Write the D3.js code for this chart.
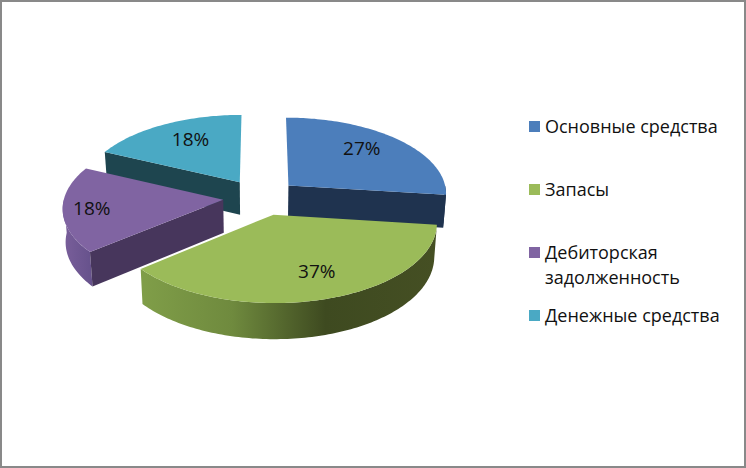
<!DOCTYPE html>
<html lang="ru"><head><meta charset="utf-8">
<script src="https://cdn.jsdelivr.net/npm/d3@7/dist/d3.min.js"></script>
<style>html,body{margin:0;padding:0;background:#fff;overflow:hidden}svg{display:block}</style>
</head><body><svg id="c" width="746" height="468"></svg>
<script>
(function(){
// Data
const categories = ["Основные средства", "Запасы", "Дебиторская задолженность", "Денежные средства"];
const values = [27, 37, 18, 18];
const percentLabels = ["27%", "37%", "18%", "18%"];
const legendLines = [["Основные средства"], ["Запасы"], ["Дебиторская", "задолженность"], ["Денежные средства"]];

// Styles
const topColors = ["#4c7ebb", "#9bbb59", "#8064a2", "#4aa9c4"];
const edgeColors = ["#1f334f", "#57682f", "#47365c", "#1e454f"];
const rimColors = ["#1f334f", "url(#gGreen)", "url(#gPurple)", "#1e454f"];
const labelRadius = [0.66, 0.86, 0.87, 0.63];
const labelShift = [[0,-6],[0,-15],[8,0],[0,-5]];
const sliceNudge = [[0,0],[2.5,-1],[1.5,0],[0,0]];
const W = 746, H = 468;
const font = '"Open Sans", sans-serif';
const cx = 260, cy = 197.5, A = 159, B = 76.4, persp = 0.0946, explode = 0.242;
const depth = 33, shrink = 0.985, depthSlope = 0.03;

const svg = d3.select("#c");
svg.append("rect").attr("x",1).attr("y",1).attr("width",W-2).attr("height",H-2)
  .attr("fill","#fff").attr("stroke","#898989").attr("stroke-width",2);

const defs = svg.append("defs");
function grad(id, x1, x2, stops){
  const g = defs.append("linearGradient").attr("id",id).attr("gradientUnits","userSpaceOnUse")
    .attr("x1",x1).attr("x2",x2).attr("y1",0).attr("y2",0);
  stops.forEach(s=>g.append("stop").attr("offset",s[0]).attr("stop-color",s[1]));
}
grad("gGreen",145,436,[[0,"#7f9d48"],[0.3,"#6f8a3e"],[0.62,"#3e4a20"],[1,"#454f23"]]);
grad("gPurple",62,95,[[0,"#7a5f9b"],[1,"#64508a"]]);

const slices = d3.pie().value(d=>d).sort(null)(values);

function project(slice, r, th){
  const mid = (slice.startAngle+slice.endAngle)/2;
  const X = r*Math.sin(th)+explode*Math.sin(mid);
  const Z = r*Math.cos(th)+explode*Math.cos(mid);
  const s = 1/(1+persp*Z);
  const n = sliceNudge[slice.index];
  return [cx+A*X*s+n[0], cy-B*Z*s+n[1]];
}
function down(p){
  return [cx+(p[0]-cx)*shrink, p[1]+depth+(p[1]-200)*depthSlope];
}
const line = d3.line();
function arcPts(slice,a0,a1){
  const n = Math.max(2,Math.ceil((a1-a0)/0.02));
  return d3.range(n+1).map(i=>project(slice,1,a0+(a1-a0)*i/n));
}
const order = [3,2,0,1];
const g = svg.append("g");
order.forEach(i=>{
  const sl = slices[i], a0 = sl.startAngle, a1 = sl.endAngle;
  const apex = project(sl,0,a0);
  // outer rim (front half only)
  const ra = Math.max(a0,Math.PI/2), rb = Math.min(a1,3*Math.PI/2);
  if(rb>ra){
    const p = arcPts(sl,ra,rb);
    g.append("path").attr("d",line(p.concat(p.map(down).reverse()))+"Z").attr("fill",rimColors[i]);
  }
  // radial walls facing the viewer
  [[a0,Math.sin(a0)<-1e-6],[a1,Math.sin(a1)>1e-6]].forEach(e=>{
    if(!e[1]) return;
    const q = project(sl,1,e[0]);
    g.append("path").attr("d",line([apex,q,down(q),down(apex)])+"Z").attr("fill",edgeColors[i]);
  });
  // top face
  g.append("path").attr("d",line([apex].concat(arcPts(sl,a0,a1)))+"Z").attr("fill",topColors[i]);
});

// percent labels
slices.forEach((sl,i)=>{
  const p = project(sl,labelRadius[i],(sl.startAngle+sl.endAngle)/2);
  svg.append("text").attr("x",p[0]+labelShift[i][0]).attr("y",p[1]+labelShift[i][1]+6.5).attr("text-anchor","middle")
    .attr("font-family",font).attr("font-size",19).attr("fill","#111").text(percentLabels[i]);
});

// legend
const legendY = [133, 196, 259, 322];
const lineStep = 25;
categories.forEach((c,i)=>{
  svg.append("rect").attr("x",529).attr("y",legendY[i]-12).attr("width",11).attr("height",11).attr("fill",topColors[i]);
  const t = svg.append("text").attr("font-family",font).attr("font-size",18).attr("fill","#111");
  legendLines[i].forEach((ln,j)=>{
    t.append("tspan").attr("x",545).attr("y",legendY[i]+j*lineStep).text(ln);
  });
});
})();
</script></body></html>
